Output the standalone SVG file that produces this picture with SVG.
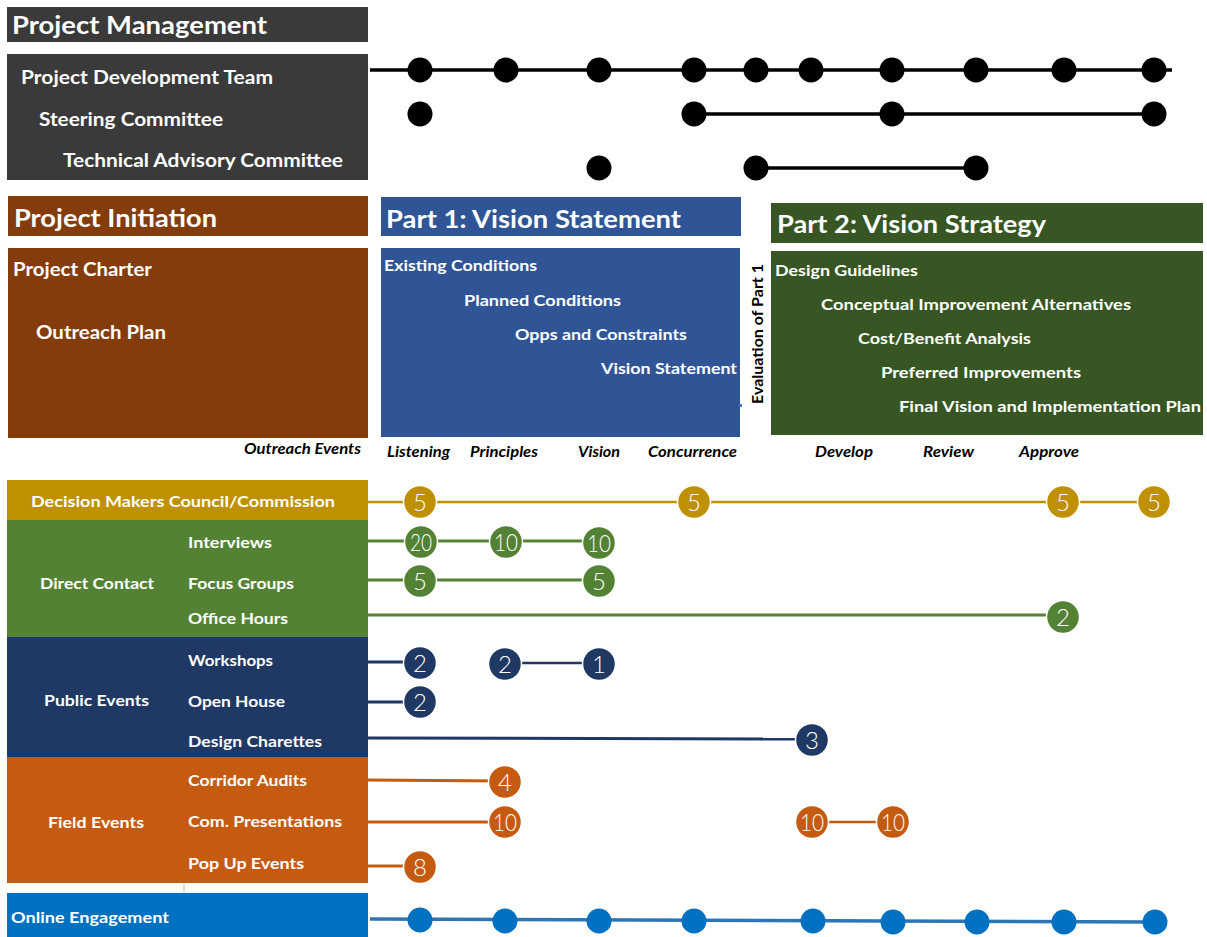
<svg xmlns="http://www.w3.org/2000/svg" width="1207" height="937" viewBox="0 0 1207 937">
<style>
text{font-family:Lato,"Open Sans","Liberation Sans",sans-serif;font-weight:700;}
.w{fill:#ffffff;}
.h{font-size:24px;}
.m{font-size:19px;}
.s{font-size:15.5px;}
.i{font-size:14.5px;font-style:italic;fill:#000000;}
.n{font-size:24px;font-weight:300;fill:#ffffff;text-anchor:middle;}
.dot{fill:#000000;}
.od{fill:#0070c0;}
.b{stroke:#ffffff;stroke-width:1.5;}
.gold{fill:#bf9000;} .grn{fill:#548235;} .nav{fill:#1f3864;} .org{fill:#c55a11;}
</style>
<rect width="1207" height="937" fill="#ffffff"/>
<g id="project-management">
<rect x="7" y="7" width="361" height="35" fill="#3a3a3a"/>
<text class="w h" x="12" y="34" textLength="255" lengthAdjust="spacingAndGlyphs">Project Management</text>
<rect x="7" y="54" width="361" height="126" fill="#3a3a3a"/>
<text class="w m" x="21" y="84" textLength="252" lengthAdjust="spacingAndGlyphs">Project Development Team</text>
<text class="w m" x="39" y="126" textLength="184" lengthAdjust="spacingAndGlyphs">Steering Committee</text>
<text class="w m" x="63" y="167" textLength="280" lengthAdjust="spacingAndGlyphs">Technical Advisory Committee</text>
</g>
<g id="project-initiation">
<rect x="8" y="196" width="360" height="40" fill="#843c0c"/>
<text class="w h" x="14" y="227" textLength="203" lengthAdjust="spacingAndGlyphs">Project Initiation</text>
<rect x="8" y="248" width="360" height="190" fill="#843c0c"/>
<text class="w m" x="13" y="276" textLength="139" lengthAdjust="spacingAndGlyphs" style="font-size:18px">Project Charter</text>
<text class="w m" x="36" y="339" textLength="130" lengthAdjust="spacingAndGlyphs" style="font-size:18px">Outreach Plan</text>
<text class="i" x="244" y="454" textLength="117" lengthAdjust="spacingAndGlyphs">Outreach Events</text>
</g>
<g id="part1">
<rect x="381" y="197" width="360" height="39" fill="#2f5597"/>
<text class="w h" x="386" y="228" textLength="295" lengthAdjust="spacingAndGlyphs">Part 1: Vision Statement</text>
<rect x="381" y="248" width="359" height="189" fill="#2f5597"/>
<text class="w s" x="384" y="271" textLength="153" lengthAdjust="spacingAndGlyphs">Existing Conditions</text>
<text class="w s" x="464" y="306" textLength="157" lengthAdjust="spacingAndGlyphs">Planned Conditions</text>
<text class="w s" x="515" y="340" textLength="172" lengthAdjust="spacingAndGlyphs">Opps and Constraints</text>
<text class="w s" x="601" y="374" textLength="136" lengthAdjust="spacingAndGlyphs">Vision Statement</text>
<rect x="739" y="404" width="3" height="3" fill="#4472c4"/>
<text class="i" x="387" y="457" textLength="63" lengthAdjust="spacingAndGlyphs">Listening</text>
<text class="i" x="470" y="457" textLength="68" lengthAdjust="spacingAndGlyphs">Principles</text>
<text class="i" x="578" y="457" textLength="42" lengthAdjust="spacingAndGlyphs">Vision</text>
<text class="i" x="648" y="457" textLength="89" lengthAdjust="spacingAndGlyphs">Concurrence</text>
</g>
<g id="evaluation">
<text transform="translate(763,404) rotate(-90)" x="0" y="0" style="font-size:15px;fill:#000000" textLength="140" lengthAdjust="spacingAndGlyphs">Evaluation of Part 1</text>
</g>
<g id="part2">
<rect x="771" y="203" width="432" height="40" fill="#375623"/>
<text class="w h" x="777" y="233" textLength="269" lengthAdjust="spacingAndGlyphs">Part 2: Vision Strategy</text>
<rect x="771" y="251" width="432" height="184" fill="#375623"/>
<text class="w s" x="775" y="276" textLength="143" lengthAdjust="spacingAndGlyphs">Design Guidelines</text>
<text class="w s" x="821" y="310" textLength="310" lengthAdjust="spacingAndGlyphs">Conceptual Improvement Alternatives</text>
<text class="w s" x="858" y="344" textLength="173" lengthAdjust="spacingAndGlyphs">Cost/Benefit Analysis</text>
<text class="w s" x="881" y="378" textLength="200" lengthAdjust="spacingAndGlyphs">Preferred Improvements</text>
<text class="w s" x="899" y="412" textLength="302" lengthAdjust="spacingAndGlyphs">Final Vision and Implementation Plan</text>
<text class="i" x="815" y="457" textLength="58" lengthAdjust="spacingAndGlyphs">Develop</text>
<text class="i" x="923" y="457" textLength="51" lengthAdjust="spacingAndGlyphs">Review</text>
<text class="i" x="1019" y="457" textLength="60" lengthAdjust="spacingAndGlyphs">Approve</text>
</g>
<g id="outreach-categories">
<rect x="7" y="480" width="361" height="40" fill="#bf9000"/>
<text class="w s" x="31" y="507" textLength="304" lengthAdjust="spacingAndGlyphs">Decision Makers Council/Commission</text>
<rect x="7" y="520" width="361" height="117" fill="#548235"/>
<text class="w s" x="40" y="589" textLength="114" lengthAdjust="spacingAndGlyphs">Direct Contact</text>
<text class="w s" x="188" y="548" textLength="84" lengthAdjust="spacingAndGlyphs">Interviews</text>
<text class="w s" x="188" y="589" textLength="106" lengthAdjust="spacingAndGlyphs">Focus Groups</text>
<text class="w s" x="188" y="624" textLength="100" lengthAdjust="spacingAndGlyphs">Office Hours</text>
<rect x="7" y="637" width="361" height="120" fill="#1f3864"/>
<text class="w s" x="44" y="706" textLength="105" lengthAdjust="spacingAndGlyphs">Public Events</text>
<text class="w s" x="188" y="666" textLength="85" lengthAdjust="spacingAndGlyphs">Workshops</text>
<text class="w s" x="188" y="707" textLength="97" lengthAdjust="spacingAndGlyphs">Open House</text>
<text class="w s" x="188" y="747" textLength="134" lengthAdjust="spacingAndGlyphs">Design Charettes</text>
<rect x="7" y="757" width="361" height="126" fill="#c55a11"/>
<text class="w s" x="48" y="828" textLength="96" lengthAdjust="spacingAndGlyphs">Field Events</text>
<text class="w s" x="188" y="786" textLength="119" lengthAdjust="spacingAndGlyphs">Corridor Audits</text>
<text class="w s" x="188" y="827" textLength="154" lengthAdjust="spacingAndGlyphs">Com. Presentations</text>
<text class="w s" x="188" y="869" textLength="116" lengthAdjust="spacingAndGlyphs">Pop Up Events</text>
<line x1="184" y1="883" x2="184" y2="893" stroke="#bfbfbf" stroke-width="1"/>
<rect x="7" y="893" width="361" height="44" fill="#0070c0"/>
<text class="w s" x="11" y="923" textLength="158" lengthAdjust="spacingAndGlyphs">Online Engagement</text>
</g>
<g id="connectors" fill="none">
<line x1="370" y1="70" x2="1172" y2="70" stroke="#000000" stroke-width="3.5"/>
<line x1="694" y1="114" x2="1154" y2="114" stroke="#000000" stroke-width="3.5"/>
<line x1="756" y1="168" x2="976" y2="168" stroke="#000000" stroke-width="3.5"/>
<line x1="368" y1="502" x2="1154" y2="502" stroke="#bf9000" stroke-width="2.5"/>
<line x1="368" y1="541" x2="599" y2="541" stroke="#548235" stroke-width="3"/>
<line x1="368" y1="580" x2="599" y2="580" stroke="#548235" stroke-width="3"/>
<line x1="368" y1="615" x2="1063" y2="615" stroke="#548235" stroke-width="3"/>
<line x1="368" y1="662" x2="420" y2="662" stroke="#1f3864" stroke-width="3"/>
<line x1="505" y1="663" x2="599" y2="663" stroke="#1f3864" stroke-width="2.5"/>
<line x1="368" y1="702" x2="420" y2="702" stroke="#1f3864" stroke-width="3"/>
<line x1="368" y1="738" x2="812" y2="739" stroke="#1f3864" stroke-width="3"/>
<line x1="368" y1="780" x2="505" y2="781" stroke="#c55a11" stroke-width="3"/>
<line x1="368" y1="822" x2="505" y2="822" stroke="#c55a11" stroke-width="3"/>
<line x1="812" y1="822" x2="893" y2="822" stroke="#c55a11" stroke-width="2.5"/>
<line x1="368" y1="866" x2="420" y2="866" stroke="#c55a11" stroke-width="3"/>
<line x1="370" y1="919" x2="1154" y2="922" stroke="#2e75b6" stroke-width="3.5"/>
</g>
<g id="pm-dots">
<circle class="dot" cx="420" cy="70" r="12.5"/>
<circle class="dot" cx="506" cy="70" r="12.5"/>
<circle class="dot" cx="599" cy="70" r="12.5"/>
<circle class="dot" cx="694" cy="70" r="12.5"/>
<circle class="dot" cx="756" cy="70" r="12.5"/>
<circle class="dot" cx="811" cy="70" r="12.5"/>
<circle class="dot" cx="892" cy="70" r="12.5"/>
<circle class="dot" cx="976" cy="70" r="12.5"/>
<circle class="dot" cx="1064" cy="70" r="12.5"/>
<circle class="dot" cx="1154" cy="70" r="12.5"/>
<circle class="dot" cx="420" cy="114" r="12.5"/>
<circle class="dot" cx="694" cy="114" r="12.5"/>
<circle class="dot" cx="892" cy="114" r="12.5"/>
<circle class="dot" cx="1154" cy="114" r="12.5"/>
<circle class="dot" cx="599" cy="168" r="12.5"/>
<circle class="dot" cx="756" cy="168" r="12.5"/>
<circle class="dot" cx="976" cy="168" r="12.5"/>
</g>
<g id="dm-bubbles">
<circle class="gold b" cx="420" cy="502" r="16.5"/><text class="n" x="420" y="510.5">5</text>
<circle class="gold b" cx="694" cy="502" r="16.5"/><text class="n" x="694" y="510.5">5</text>
<circle class="gold b" cx="1063" cy="502" r="16.5"/><text class="n" x="1063" y="510.5">5</text>
<circle class="gold b" cx="1154" cy="502" r="16.5"/><text class="n" x="1154" y="510.5">5</text>
</g>
<g id="direct-bubbles">
<circle class="grn b" cx="421" cy="542" r="16.5"/><text class="n" x="421" y="550.5" textLength="22" lengthAdjust="spacingAndGlyphs">20</text>
<circle class="grn b" cx="506" cy="542" r="16.5"/><text class="n" x="506" y="550.5" textLength="24" lengthAdjust="spacingAndGlyphs">10</text>
<circle class="grn b" cx="599" cy="543" r="16.5"/><text class="n" x="599" y="551.5" textLength="24" lengthAdjust="spacingAndGlyphs">10</text>
<circle class="grn b" cx="420" cy="581" r="16.5"/><text class="n" x="420" y="589.5">5</text>
<circle class="grn b" cx="599" cy="581" r="16.5"/><text class="n" x="599" y="589.5">5</text>
<circle class="grn b" cx="1063" cy="617" r="16.5"/><text class="n" x="1063" y="625.5">2</text>
</g>
<g id="public-bubbles">
<circle class="nav b" cx="420" cy="663" r="16.5"/><text class="n" x="420" y="671.5">2</text>
<circle class="nav b" cx="505" cy="664" r="16.5"/><text class="n" x="505" y="672.5">2</text>
<circle class="nav b" cx="599" cy="664" r="16.5"/><text class="n" x="599" y="672.5">1</text>
<circle class="nav b" cx="420" cy="702" r="16.5"/><text class="n" x="420" y="710.5">2</text>
<circle class="nav b" cx="812" cy="740" r="16.5"/><text class="n" x="812" y="748.5">3</text>
</g>
<g id="field-bubbles">
<circle class="org b" cx="505" cy="782" r="16.5"/><text class="n" x="505" y="790.5">4</text>
<circle class="org b" cx="505" cy="822" r="16.5"/><text class="n" x="505" y="830.5" textLength="24" lengthAdjust="spacingAndGlyphs">10</text>
<circle class="org b" cx="812" cy="822" r="16.5"/><text class="n" x="812" y="830.5" textLength="24" lengthAdjust="spacingAndGlyphs">10</text>
<circle class="org b" cx="893" cy="822" r="16.5"/><text class="n" x="893" y="830.5" textLength="24" lengthAdjust="spacingAndGlyphs">10</text>
<circle class="org b" cx="420" cy="867" r="16.5"/><text class="n" x="420" y="875.5">8</text>
</g>
<g id="online-dots">
<circle class="od" cx="420" cy="920" r="12.5"/>
<circle class="od" cx="505" cy="921" r="12.5"/>
<circle class="od" cx="599" cy="921" r="12.5"/>
<circle class="od" cx="694" cy="921" r="12.5"/>
<circle class="od" cx="813" cy="921" r="12.5"/>
<circle class="od" cx="893" cy="922" r="12.5"/>
<circle class="od" cx="977" cy="922" r="12.5"/>
<circle class="od" cx="1064" cy="922" r="12.5"/>
<circle class="od" cx="1155" cy="922" r="12.5"/>
</g>
</svg>
